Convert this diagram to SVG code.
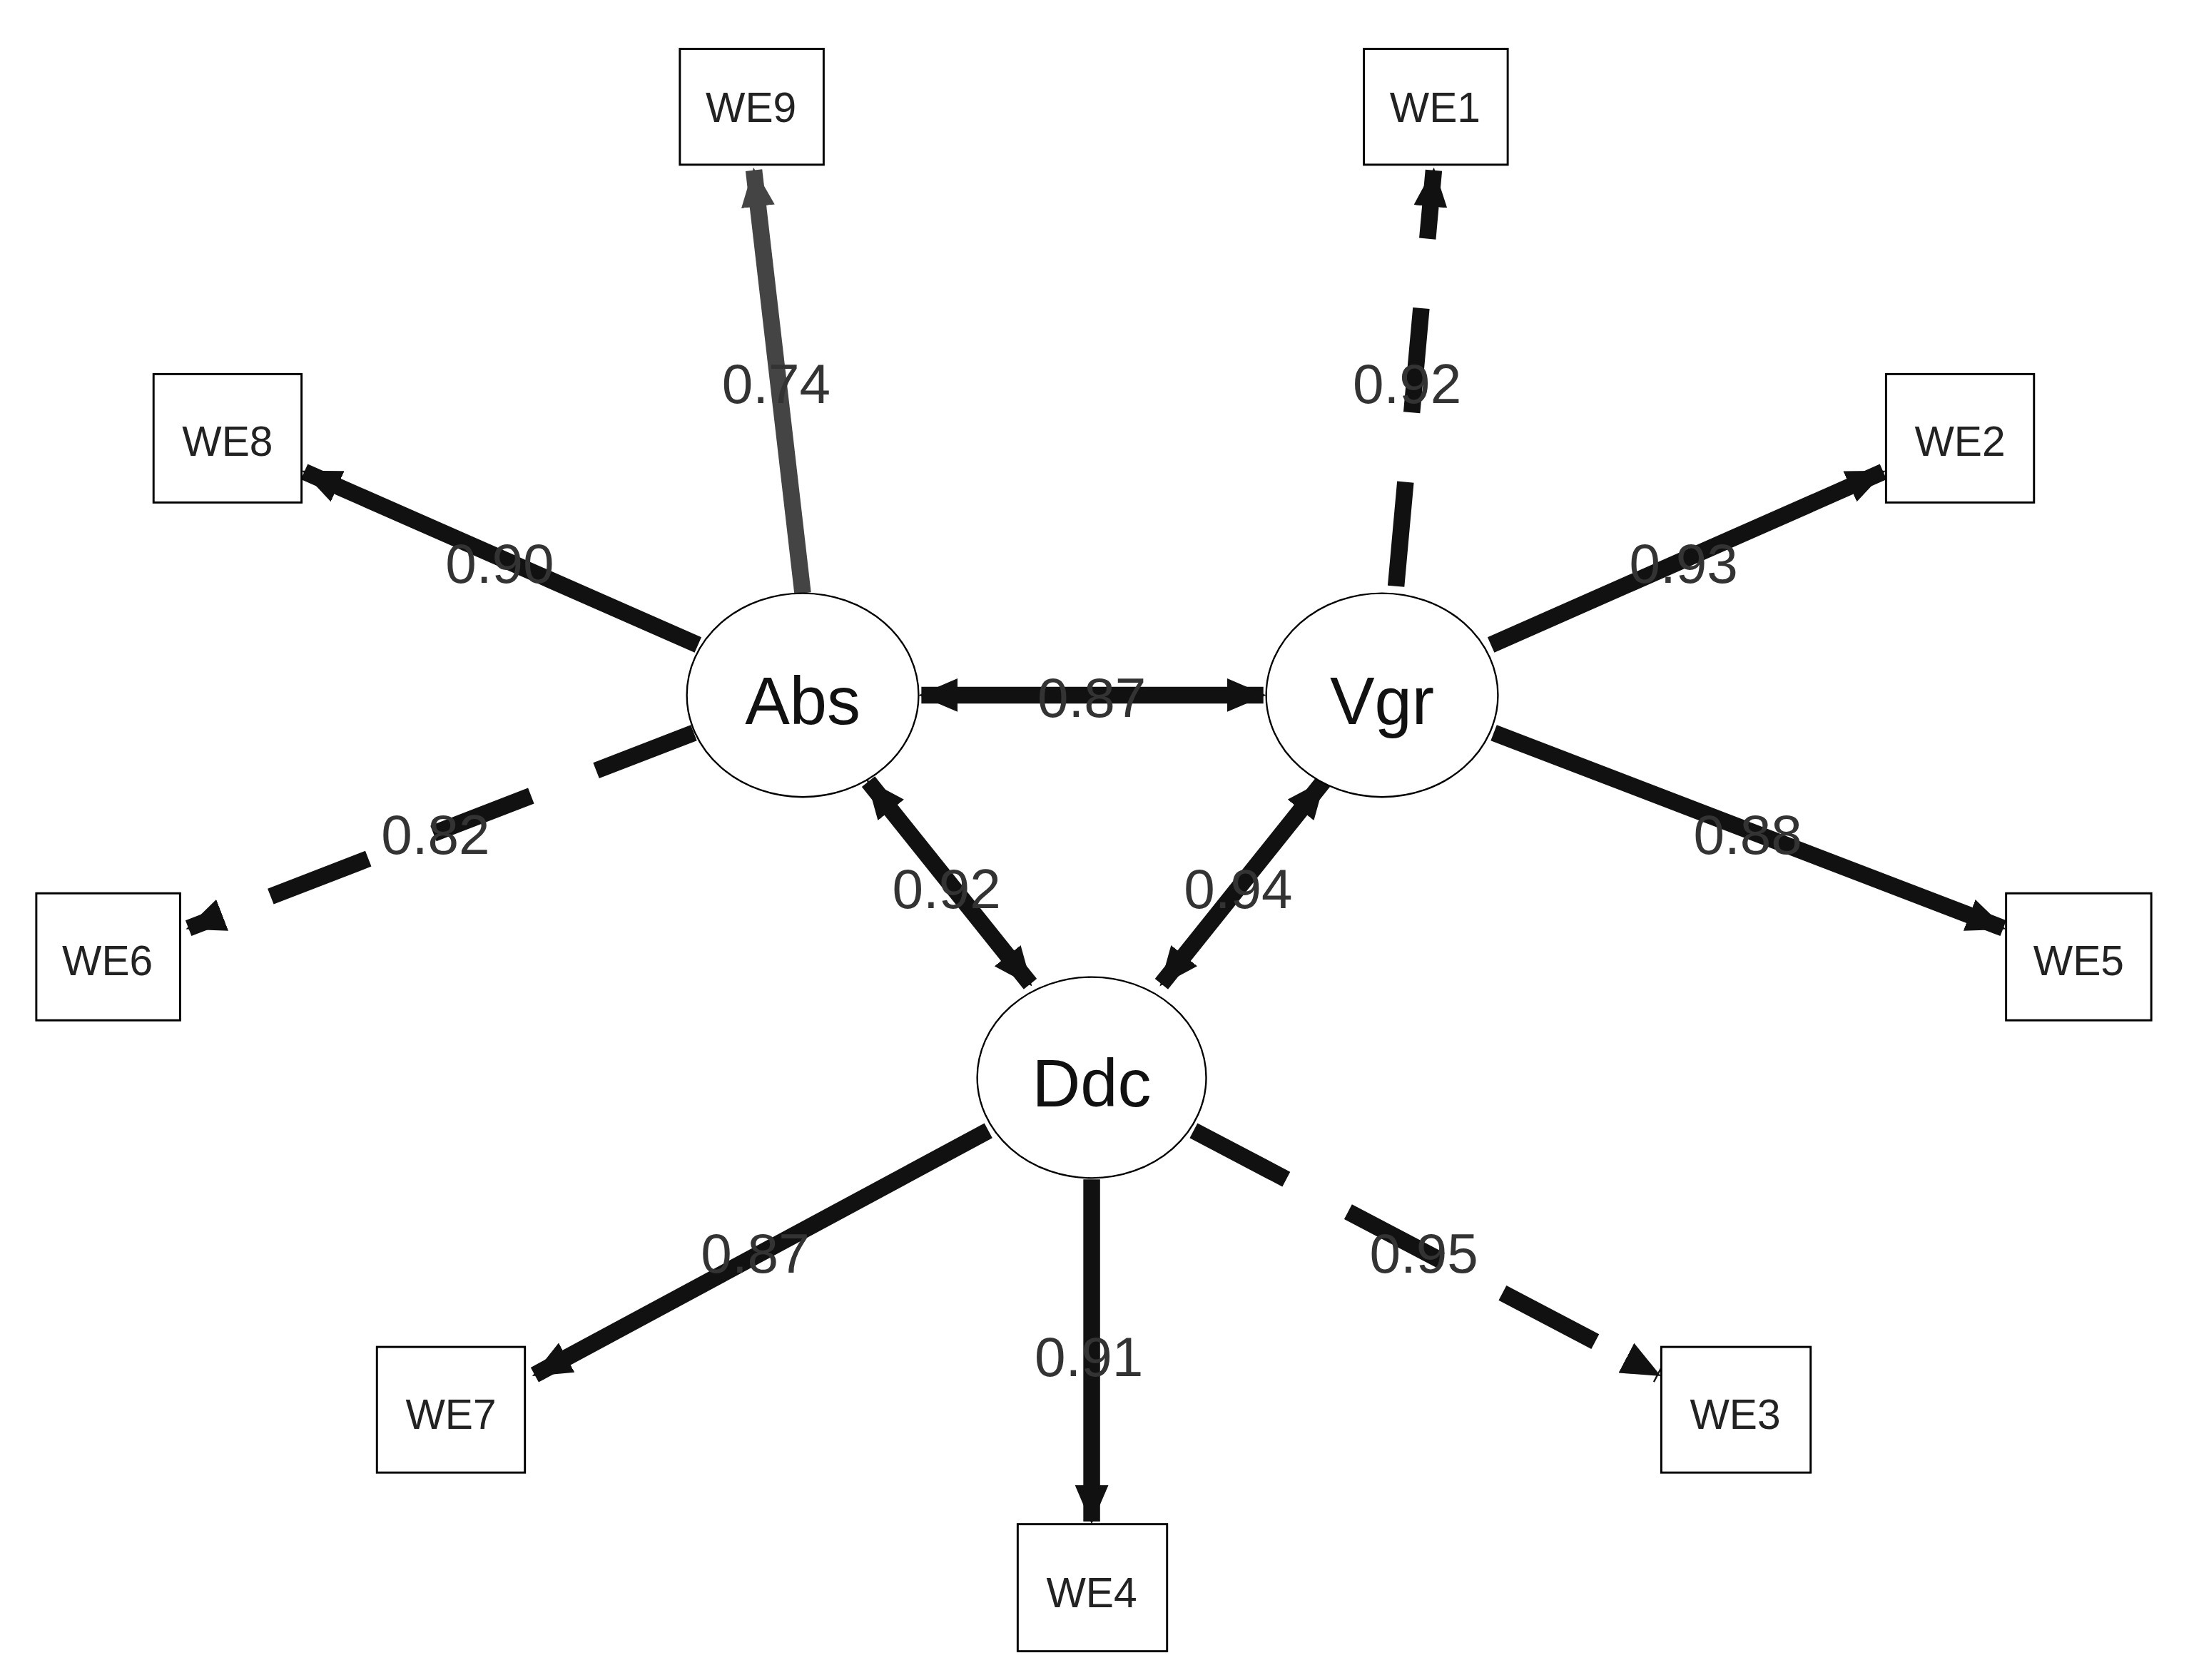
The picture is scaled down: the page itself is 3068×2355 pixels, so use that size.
<svg xmlns="http://www.w3.org/2000/svg" width="3068" height="2355" viewBox="0 0 3068 2355">
<style>
.box{fill:#fff;stroke:#000;stroke-width:1.5}
.lat{fill:#fff;stroke:#000;stroke-width:1.2}
.bt{font-family:"Liberation Sans",Arial,sans-serif;font-size:30px;fill:#222;text-anchor:middle;dominant-baseline:central}
.lt{font-family:"Liberation Sans",Arial,sans-serif;font-size:48px;fill:#111;text-anchor:middle;dominant-baseline:central}
.el{font-family:"Liberation Sans",Arial,sans-serif;font-size:40px;fill:#333;text-anchor:middle;dominant-baseline:central}
.e{stroke:#111;stroke-width:12;fill:none;marker-end:url(#ah)}
.g{stroke:#444;marker-end:url(#ahg)}
.d{stroke-dasharray:75 50}
.b{marker-start:url(#ahs)}
</style>
<defs>
<marker id="ah" markerUnits="userSpaceOnUse" markerWidth="28" markerHeight="24" refX="26" refY="12" orient="auto"><path d="M0,0 L28,12 L0,24 Z" fill="#111"/></marker>
<marker id="ahs" markerUnits="userSpaceOnUse" markerWidth="28" markerHeight="24" refX="26" refY="12" orient="auto-start-reverse"><path d="M0,0 L28,12 L0,24 Z" fill="#111"/></marker>
<marker id="ahg" markerUnits="userSpaceOnUse" markerWidth="28" markerHeight="24" refX="26" refY="12" orient="auto"><path d="M0,0 L28,12 L0,24 Z" fill="#444"/></marker>
</defs>
<rect width="3068" height="2355" fill="#fff"/>
<g transform="scale(1.9566)">
<g id="connectors">
<line class="e g" x1="575" y1="425" x2="540" y2="122"/>
<line class="e d" x1="1000" y1="420" x2="1027" y2="122"/>
<line class="e" x1="500" y1="462" x2="218" y2="338"/>
<line class="e" x1="1068" y1="462" x2="1349" y2="338"/>
<line class="e d" x1="497" y1="525" x2="135" y2="665"/>
<line class="e" x1="1070" y1="525" x2="1435" y2="665"/>
<line class="e" x1="708" y1="810" x2="383" y2="985"/>
<line class="e" x1="782" y1="845" x2="782" y2="1090"/>
<line class="e d" x1="855" y1="810" x2="1188" y2="985"/>
<line class="e b" x1="660" y1="498" x2="905" y2="498"/>
<line class="e b" x1="622" y1="560" x2="738" y2="705"/>
<line class="e b" x1="948" y1="560" x2="832" y2="705"/>
<text class="el" x="556" y="275">0.74</text>
<text class="el" x="1008" y="275">0.92</text>
<text class="el" x="358" y="404">0.90</text>
<text class="el" x="1206" y="404">0.93</text>
<text class="el" x="312" y="598">0.82</text>
<text class="el" x="1252" y="598">0.88</text>
<text class="el" x="541" y="898">0.87</text>
<text class="el" x="780" y="972">0.91</text>
<text class="el" x="1020" y="898">0.95</text>
<text class="el" x="782" y="500">0.87</text>
<text class="el" x="678" y="637">0.92</text>
<text class="el" x="887" y="637">0.94</text>
</g>
<g id="WE9"><rect class="box" x="487" y="35" width="103" height="83"/><text class="bt" x="538" y="77">WE9</text></g>
<g id="WE1"><rect class="box" x="977" y="35" width="103" height="83"/><text class="bt" x="1028" y="77">WE1</text></g>
<g id="WE8"><rect class="box" x="110" y="268" width="106" height="92"/><text class="bt" x="163" y="316">WE8</text></g>
<g id="WE2"><rect class="box" x="1351" y="268" width="106" height="92"/><text class="bt" x="1404" y="316">WE2</text></g>
<g id="WE6"><rect class="box" x="26" y="640" width="103" height="91"/><text class="bt" x="77" y="688">WE6</text></g>
<g id="WE5"><rect class="box" x="1437" y="640" width="104" height="91"/><text class="bt" x="1489" y="688">WE5</text></g>
<g id="WE7"><rect class="box" x="270" y="965" width="106" height="90"/><text class="bt" x="323" y="1013">WE7</text></g>
<g id="WE3"><rect class="box" x="1190" y="965" width="107" height="90"/><text class="bt" x="1243" y="1013">WE3</text></g>
<g id="WE4"><rect class="box" x="729" y="1092" width="107" height="91"/><text class="bt" x="782" y="1141">WE4</text></g>
<g id="Abs"><ellipse class="lat" cx="575" cy="498" rx="83" ry="73"/><text class="lt" x="575" y="502">Abs</text></g>
<g id="Vgr"><ellipse class="lat" cx="990" cy="498" rx="83" ry="73"/><text class="lt" x="990" y="502">Vgr</text></g>
<g id="Ddc"><ellipse class="lat" cx="782" cy="772" rx="82" ry="72"/><text class="lt" x="782" y="776">Ddc</text></g>
</g>
</svg>
